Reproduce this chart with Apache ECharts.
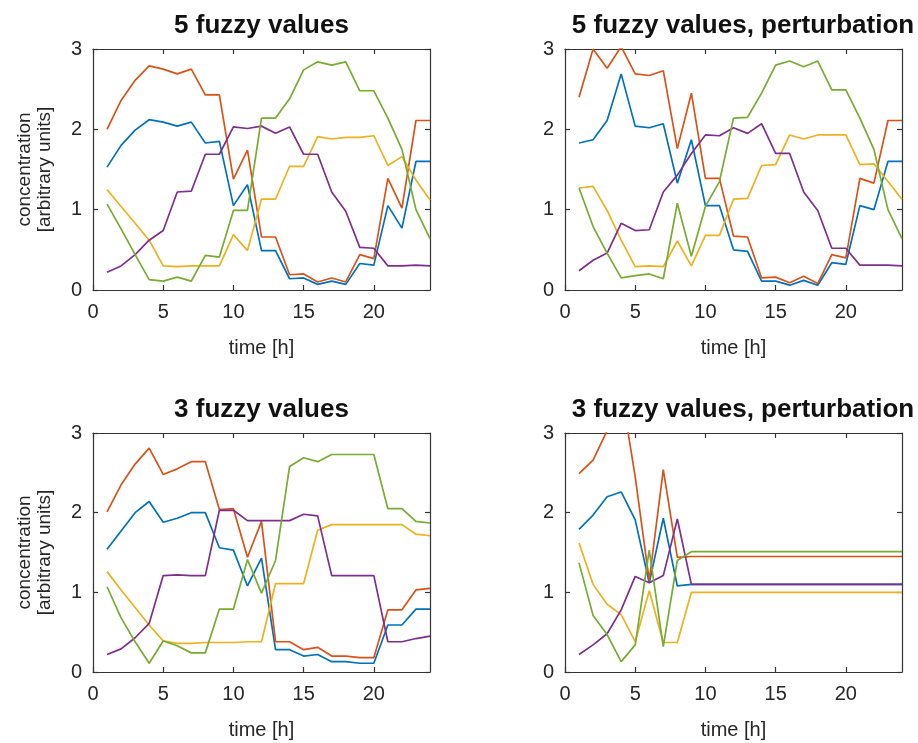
<!DOCTYPE html>
<html><head><meta charset="utf-8">
<script src="https://cdn.jsdelivr.net/npm/echarts@6/dist/echarts.min.js"></script>
<style>html,body{margin:0;padding:0;background:#fff}#c{width:918px;height:743px}</style>
</head><body><div id="c"></div>
<script>
const time = [1,2,3,4,5,6,7,8,9,10,11,12,13,14,15,16,17,18,19,20,21,22,23,24];
const titles = ['5 fuzzy values','5 fuzzy values, perturbation','3 fuzzy values','3 fuzzy values, perturbation'];
const xTicks = [0,5,10,15,20];
const yTicks = [0,1,2,3];
const xLabel = 'time [h]';
const yLabel = 'concentration\n[arbitrary units]';

// panel 1: 5 fuzzy values
const blue1   = [1.53,1.80,1.99,2.12,2.09,2.04,2.09,1.83,1.85,1.05,1.31,0.49,0.49,0.14,0.15,0.07,0.11,0.07,0.33,0.31,1.05,0.77,1.60,1.60];
const orange1 = [2.00,2.36,2.61,2.79,2.75,2.69,2.75,2.43,2.43,1.38,1.74,0.66,0.66,0.19,0.20,0.10,0.15,0.10,0.44,0.39,1.39,1.02,2.11,2.11];
const yellow1 = [1.25,1.04,0.83,0.62,0.30,0.29,0.30,0.30,0.30,0.69,0.49,1.13,1.13,1.54,1.54,1.91,1.88,1.90,1.90,1.92,1.55,1.66,1.37,1.12];
const purple1 = [0.22,0.30,0.44,0.62,0.74,1.22,1.23,1.69,1.69,2.03,2.01,2.04,1.95,2.03,1.69,1.69,1.22,0.98,0.53,0.52,0.30,0.30,0.31,0.30];
const green1  = [1.07,0.76,0.44,0.13,0.11,0.16,0.11,0.43,0.41,0.99,0.99,2.14,2.14,2.38,2.74,2.84,2.80,2.84,2.48,2.48,2.14,1.75,1.00,0.64];

// panel 2: 5 fuzzy values, perturbation
const blue2   = [1.83,1.87,2.11,2.69,2.04,2.02,2.07,1.33,1.87,1.05,1.05,0.50,0.48,0.11,0.11,0.06,0.12,0.06,0.34,0.32,1.05,1.00,1.60,1.60];
const orange2 = [2.40,3.00,2.76,3.03,2.69,2.67,2.73,1.76,2.45,1.39,1.39,0.67,0.66,0.15,0.16,0.09,0.17,0.08,0.44,0.40,1.39,1.33,2.11,2.11];
const yellow2 = [1.27,1.29,0.99,0.62,0.29,0.30,0.29,0.61,0.30,0.68,0.68,1.13,1.14,1.55,1.56,1.93,1.88,1.93,1.93,1.93,1.56,1.57,1.35,1.13];
const purple2 = [0.24,0.37,0.46,0.83,0.74,0.75,1.22,1.43,1.70,1.93,1.92,2.02,1.95,2.07,1.70,1.70,1.22,0.99,0.52,0.52,0.31,0.31,0.31,0.30];
const green2  = [1.27,0.79,0.46,0.15,0.18,0.20,0.14,1.08,0.42,1.04,1.35,2.14,2.15,2.45,2.80,2.85,2.78,2.85,2.49,2.49,2.14,1.75,1.00,0.64];

// panel 3: 3 fuzzy values
const blue3   = [1.54,1.77,2.00,2.14,1.88,1.93,2.00,2.00,1.56,1.53,1.08,1.43,0.28,0.28,0.20,0.22,0.13,0.13,0.11,0.11,0.59,0.59,0.79,0.79];
const orange3 = [2.01,2.35,2.61,2.81,2.48,2.55,2.64,2.64,2.04,2.05,1.44,1.89,0.38,0.38,0.28,0.31,0.20,0.20,0.18,0.18,0.78,0.78,1.03,1.05];
const yellow3 = [1.26,1.03,0.81,0.59,0.39,0.36,0.36,0.37,0.37,0.37,0.38,0.38,1.11,1.11,1.11,1.78,1.85,1.85,1.85,1.85,1.85,1.85,1.73,1.71];
const purple3 = [0.22,0.29,0.43,0.61,1.21,1.22,1.21,1.21,2.03,2.03,1.90,1.90,1.90,1.90,1.98,1.96,1.21,1.21,1.21,1.21,0.38,0.38,0.42,0.45];
const green3  = [1.07,0.68,0.38,0.11,0.39,0.33,0.24,0.24,0.79,0.79,1.41,0.99,1.40,2.58,2.69,2.64,2.73,2.73,2.73,2.73,2.05,2.05,1.89,1.87];

// panel 4: 3 fuzzy values, perturbation
const blue4   = [1.79,1.97,2.20,2.26,1.91,1.12,1.93,1.08,1.10,1.10,1.10,1.10,1.10,1.10,1.10,1.10,1.10,1.10,1.10,1.10,1.10,1.10,1.10,1.10];
const orange4 = [2.49,2.66,3.03,3.55,2.45,1.15,2.54,1.44,1.45,1.45,1.45,1.45,1.45,1.45,1.45,1.45,1.45,1.45,1.45,1.45,1.45,1.45,1.45,1.45];
const yellow4 = [1.62,1.10,0.85,0.72,0.38,1.02,0.37,0.37,1.00,1.00,1.00,1.00,1.00,1.00,1.00,1.00,1.00,1.00,1.00,1.00,1.00,1.00,1.00,1.00];
const purple4 = [0.22,0.34,0.48,0.78,1.20,1.12,1.21,1.92,1.10,1.10,1.10,1.10,1.10,1.10,1.10,1.10,1.10,1.10,1.10,1.10,1.10,1.10,1.10,1.10];
const green4  = [1.37,0.71,0.47,0.13,0.34,1.53,0.32,1.40,1.51,1.51,1.51,1.51,1.51,1.51,1.51,1.51,1.51,1.51,1.51,1.51,1.51,1.51,1.51,1.51];

const panels = [
  [blue1, orange1, yellow1, purple1, green1],
  [blue2, orange2, yellow2, purple2, green2],
  [blue3, orange3, yellow3, purple3, green3],
  [blue4, orange4, yellow4, purple4, green4]
];
const colors = ['#0072BD','#D95319','#EDB120','#7E2F8E','#77AC30'];

const FONT = '"Liberation Sans", Arial, Helvetica, sans-serif';
const AX = '#262626';
const grids = [
  {left:93, top:49, width:337, height:241},
  {left:565, top:49, width:337, height:241},
  {left:93, top:433, width:337, height:239},
  {left:565, top:433, width:337, height:239}
];
const titlePos = [{x:261.5,y:13},{x:743,y:13},{x:261.5,y:397},{x:743,y:397}];

const xAxes = [], yAxes = [], series = [], titleArr = [];
grids.forEach((g, gi) => {
  const lineStyle = {color: '#333', width: 1.2};
  xAxes.push({
    gridIndex: gi, type: 'value', min: 0, max: 24, position: 'bottom',
    axisLine: {show: true, onZero: false, lineStyle},
    axisTick: {show: true, inside: true, length: 5, customValues: xTicks, lineStyle},
    axisLabel: {show: true, customValues: xTicks, color: AX, fontSize: 20, fontFamily: FONT, margin: 12},
    splitLine: {show: false},
    name: xLabel, nameLocation: 'middle', nameGap: 48,
    nameTextStyle: {color: AX, fontSize: 20, fontFamily: FONT}
  });
  xAxes.push({
    gridIndex: gi, type: 'value', min: 0, max: 24, position: 'top',
    axisLine: {show: true, onZero: false, lineStyle},
    axisTick: {show: true, inside: true, length: 5, customValues: xTicks, lineStyle},
    axisLabel: {show: false}, splitLine: {show: false}
  });
  const left = {
    gridIndex: gi, type: 'value', min: 0, max: 3, interval: 1, position: 'left',
    axisLine: {show: true, onZero: false, lineStyle},
    axisTick: {show: true, inside: true, length: 5, customValues: yTicks, lineStyle},
    axisLabel: {show: true, customValues: yTicks, color: AX, fontSize: 20, fontFamily: FONT, margin: 11},
    splitLine: {show: false}
  };
  if (gi % 2 === 0) {
    left.name = yLabel;
    left.nameLocation = 'middle';
    left.nameGap = 38;
    left.nameRotate = 90;
    left.nameTextStyle = {color: AX, fontSize: 19, fontFamily: FONT, lineHeight: 20};
  }
  yAxes.push(left);
  yAxes.push({
    gridIndex: gi, type: 'value', min: 0, max: 3, interval: 1, position: 'right',
    axisLine: {show: true, onZero: false, lineStyle},
    axisTick: {show: true, inside: true, length: 5, customValues: yTicks, lineStyle},
    axisLabel: {show: false}, splitLine: {show: false}
  });
  panels[gi].forEach((vals, si) => {
    series.push({
      type: 'line', xAxisIndex: gi * 2, yAxisIndex: gi * 2,
      data: time.map((t, i) => [t, vals[i]]),
      symbol: 'none', clip: true, silent: true,
      lineStyle: {color: colors[si], width: 1.7},
      itemStyle: {color: colors[si]}
    });
  });
  titleArr.push({
    text: titles[gi], left: titlePos[gi].x, top: titlePos[gi].y, textAlign: 'center', padding: 0,
    textStyle: {fontSize: 26, fontWeight: 'bold', color: '#111', fontFamily: FONT}
  });
});

const chart = echarts.init(document.getElementById('c'), null, {renderer: 'canvas'});
chart.setOption({
  animation: false,
  backgroundColor: '#fff',
  title: titleArr,
  grid: grids,
  xAxis: xAxes,
  yAxis: yAxes,
  series: series
});
</script>
</body></html>
